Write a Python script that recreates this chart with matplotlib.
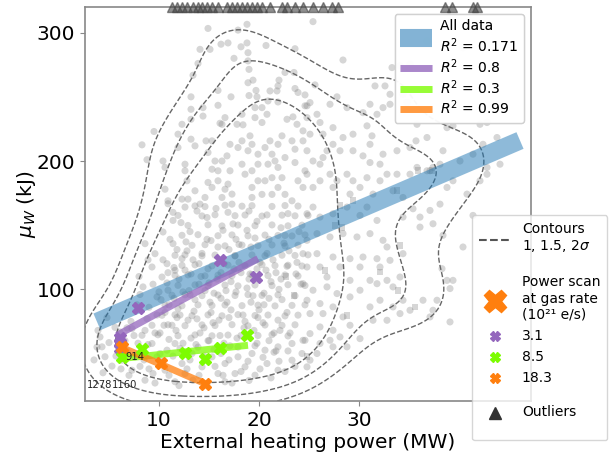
import numpy as np
import matplotlib
matplotlib.use("Agg")
import matplotlib.pyplot as plt
from matplotlib.lines import Line2D

# ---------------- data ----------------
# gray cloud, circles: (external heating power MW, mu_W kJ)
circle_points = [
    # upper part
    (14.9,303.3),(17.9,302),(18.8,306.5),(16.2,291),(16.9,292),(15.1,287),(14.1,287),(18.2,289),
    (18.8,292),(20.7,290),(23.6,287.5),(17.5,280),(18.9,284.4),(18.9,278),(19.0,271.4),(13.9,276),
    (13.4,266.8),(19.4,263),(18.9,261),(22.6,269),(23.5,269),(22.0,263),(21.9,258.5),(15.9,255),
    (17.2,250),(19.0,251),(19.7,255),(19.8,250),(21.1,254.6),(21.8,254.6),(20.9,246.8),(21.9,246),
    (23.6,256.5),(23.9,253.4),(24.6,243),(13.2,250),(15.9,243.4),(14.4,241.6),(14.4,235),(13.2,240.3),
    (13.2,232.5),(16.6,233.8),(16.1,229.4),(16.3,228.6),(12.3,228.6),(9.5,223),(8.3,212.6),(8.8,201),
    (11.9,220.9),(11.9,210.5),(13.2,217),(10.4,200),(10.6,195),(10.6,178),(10.9,169),(13.6,211.8),
    (14.7,215.7),(15.3,215.7),(14.9,206.6),(16.3,200),(15.9,192.4),(16.8,204),(17.1,213),(17.8,228.6),
    (18.4,228.2),(18.3,236.4),(19.6,233.8),(20.3,230),(20.8,236.4),(20.3,241.6),(19.6,241.6),(22.8,232.5),
    (23.4,234.4),(23.8,228.6),(24.4,223.5),(24.8,243),(22.3,219.6),(21.9,213),(23.3,215.7),(23.6,209.2),
    (22.6,202.7),(23.6,198.8),(24.6,192.4),(23.9,184.6),
    (19.1,219.6),(19.3,213),(18.9,208),(19.9,205.3),(20.6,210.5),(21.1,215.7),(21.3,205.3),(21.6,200),
    (21.9,195),(20.9,197.5),(19.9,197.5),(19.3,192.4),(19.9,184.6),(19.3,179.4),(20.6,184.6),(21.3,187),
    (22.3,187),(21.9,179.4),(22.6,174),(23.3,169),(21.3,174),(20.3,174),(19.3,171.6),(18.6,189.7),
    (18.3,197.5),(17.9,210.5),(18.3,215.7),(17.1,192.4),(16.9,182),(16.6,178),(15.6,200),(15.3,193.6),
    (15.9,184.6),(14.9,183.3),(15.3,179.4),(12.6,197.5),(12.6,192.4),(12.8,184.6),(13.6,176.8),(12.9,170.3),
    (12.3,170.3),(14.1,166.4),(14.6,171.6),(16.3,171.6),(17.3,174.2),(17.3,166.4),
    # upper right
    (25.4,308.6),(28.4,278.7),(25.6,259.3),(24.6,251.5),(25.1,245.5),(24.8,233.8),(25.8,236.4),
    (27.1,244.2),(27.8,250),(26.1,230),(27.4,226),(28.8,241.6),(30.4,237.7),(31.1,244.2),(31.8,236.4),
    (32.4,241.6),(33.1,244.2),(30.8,227.4),(31.3,219.6),(31.1,213),(31.6,258.5),(32.6,258.5),(33.3,272.8),
    (34.1,274.1),(35.1,275.4),(33.1,252),(34.4,252),(34.8,245.5),(35.8,228.6),(36.8,218.3),(35.7,215.7),
    (35.1,210.5),(33.8,208),(32.4,205.3),(32.1,197.5),(31.1,198.8),(30.4,204),(29.4,208),(28.1,208),
    (28.4,218.3),(29.4,220.9),(27.4,213),(26.8,208),(26.4,202.7),(26.1,197.5),(25.4,200),(24.8,208),
    (24.4,215.7),(25.1,220.9),(26.4,220.9),(38.8,226),(39.4,227.4),(40.4,288.3),(36.8,293.5),(42.1,228.6),
    (42.8,230),(42.4,213),(43.8,218.3),(41.4,205.3),(40.1,200),(42.8,195),(44.1,197.5),(42.1,184.6),
    (39.4,184.6),(38.1,197.5),(37.4,195),(37.1,192.4),(38.4,208),(35.1,189.7),(35.8,195),(36.8,192.4),
    (33.8,189.7),(32.8,189.7),(32.1,184.6),(30.8,187),(30.1,179.4),(29.4,184.6),(28.8,189.7),(27.8,184.6),
    (27.4,179.4),(27.1,189.7),(26.1,184.6),(25.4,179.4),(24.8,189.7),(24.4,179.4),(29.1,174.2),(31.4,174.2),
    (33.4,176.8),(34.4,171.6),(38.8,179.4),(40.8,174.2),(38.1,166.4),(42.8,189.7),
    # lower right
    (25.4,164.1),(24.8,158.9),(26.1,156.3),(27.4,158.9),(28.8,164.1),(30.1,157.6),(30.8,164.1),(31.8,153.7),
    (31.1,143.4),(32.4,138.2),(29.8,140.8),(28.4,143.4),(27.1,140.8),(25.8,143.4),(24.8,138.2),(24.4,127.8),
    (25.8,127.8),(27.4,125.2),(29.1,123.9),(30.4,125.2),(31.8,123.9),(33.1,122.6),(32.8,133),(34.4,156.3),
    (35.4,162.8),(36.1,156.3),(37.1,161.5),(37.4,151.1),(36.1,148.5),(34.4,127.8),(34.1,109.6),(32.8,107),
    (31.8,104.4),(31.1,107),(30.1,99.3),(29.1,94.1),(27.8,96.7),(26.8,101.9),(25.4,99.3),(24.4,104.4),
    (24.8,91.5),(26.1,88.9),(27.4,86.3),(28.4,78.5),(29.1,72),(27.4,68.1),(26.1,70.7),(25.1,65.5),
    (24.4,60.3),(26.1,57.8),(27.1,60.3),(28.1,62.9),(30.1,61.6),(31.1,86.3),(32.1,91.5),(33.4,86.3),
    (31.4,75.9),(32.8,75.9),(34.1,81.1),(35.1,83.7),(37.4,83.7),(37.1,78.5),(38.4,142.1),(40.4,133),
    (38.3,116.1),(38.8,107),(39.4,107),(39.1,100.6),(39.1,74.6),(37.8,91.5),(41.4,157.6),(36.4,91.5),
    (34.4,91.5),(33.4,101.9),(32.1,117.4),(30.1,117.4),(28.1,117.4),(26.1,117.4),(24.8,117.4),(26.8,109.6),
    (29.1,107),(25.8,50),(25.1,44.8),(24.8,39.6),(27.4,55.2),(28.8,55.2),(26.4,81.1),(25.1,81.1),
    # lower left edge
    (10.9,166.7),(12.6,164.1),(11.4,153.7),(10.4,144.7),(8.6,135.6),(11.4,135.6),(9.6,127.8),(10.8,120),
    (9.3,117.4),(12.3,123.9),(8.4,101.9),(9.8,94.1),(10.9,99.3),(10.3,109.6),(11.6,114.8),(4.1,62.9),
    (4.3,55.2),(6.1,66.8),(7.3,69.4),(8.8,77.2),(7.6,47.4),(7.3,37),(8.6,29.2),(9.4,34.4),
    (10.6,37),(11.6,28),(12.6,34.4),(13.4,29.2),(15.9,34.4),(16.6,28),(17.6,34.4),(18.6,39.6),
    (19.6,33.1),(20.8,42.2),(21.9,37),(23.3,44.8),(24.3,50),(10.8,52.6),(11.6,57.8),(13.3,50),
    (12.3,42.2),(14.3,39.6),(15.3,47.4),(16.6,42.2),(17.9,47.4),(19.3,50),(20.6,52.6),(21.9,55.2),
    (23.3,57.8),(24.6,60.3),(9.3,57.8),(9.8,47.4),(6.3,44.8),(5.6,70.4),(5.0,58.5),(4.6,47.5),(5.3,40.2),
    (3.5,45),(3.9,68),(4.4,35),(4.8,78),(3.8,55),
    # bottom band
    (6.8,52),(7.9,58),(8.5,45),(9.0,38),(9.6,27),(10.3,44),(11.0,33),(11.4,48),(12.0,25),(12.1,54),
    (12.8,38),(13.1,45),(13.7,57),(14.0,33),(14.5,48),(14.8,26),(15.0,60),(15.6,40),(16.2,50),(16.4,33),
    (17.0,45),(17.3,27),(17.9,55),(18.2,36),(18.9,44),(19.0,29),(19.6,56),(20.1,38),(20.4,47),(21.2,31),
    (21.5,51),(22.0,44),(22.6,36),(22.9,52),(23.6,40),(8.1,40),(7.0,33),(6.2,38),(5.7,48),(6.6,60),
    (7.2,75),(7.8,88),(8.1,96),(7.5,64),(6.8,70),(8.0,110),(8.9,123),(9.4,104),(9.0,86),(8.6,68),
    # dense core
    (13.6,165),(14.6,164.5),(16.6,165.5),(18.3,164.8),(19.3,165.2),(21.3,164.6),(22.6,165.3),(23.9,164.9),
    (11.9,157.6),(14.3,157.2),(15.6,158.1),(17.6,157.4),(18.6,157.9),(20.3,157.1),(22.3,157.8),(23.6,157.3),(24.9,157.6),
    (12.9,149.8),(14.9,150.3),(16.3,149.4),(17.9,150.1),(19.6,149.6),(21.3,150.2),(22.9,149.5),(24.3,150),
    (12.3,142.1),(13.9,142.6),(15.9,141.8),(17.3,142.4),(18.9,141.7),(20.6,142.3),(21.9,142),(23.3,141.6),(24.6,142.4),
    (13.3,134.3),(14.6,134.8),(16.6,133.9),(18.3,134.5),(19.9,134.1),(21.3,134.6),(22.6,133.8),(23.9,134.4),
    (11.6,126.5),(12.6,126.9),(14.3,126.1),(15.6,126.7),(17.6,126.3),(19.3,126.8),(20.6,126.2),(22.3,126.6),(23.6,126.4),(24.9,126.9),
    (12.3,118.7),(13.6,119.1),(15.3,118.3),(16.9,118.9),(18.6,118.4),(20.3,119.2),(21.6,118.5),(22.9,118.8),(24.3,118.2),
    (11.6,110.9),(12.9,111.3),(14.6,110.5),(15.9,111.1),(17.3,110.6),(19.3,111.4),(20.9,110.7),(22.6,111.2),(23.9,110.4),
    (11.9,103.1),(13.6,103.5),(14.9,102.8),(16.6,103.3),(17.9,102.7),(19.6,103.4),(21.3,102.9),(22.9,103.6),(24.6,103),
    (11.3,95.4),(12.6,95.8),(14.3,95.1),(15.9,95.6),(17.6,95.2),(18.9,95.9),(20.3,95.3),(21.9,95.7),(23.6,95),
    (10.6,87.6),(12.3,87.2),(13.9,87.9),(15.3,87.4),(16.6,87.8),(18.3,87.3),(19.9,87.7),(21.6,87.1),(23.3,87.5),(24.6,87.9),
    (10.3,79.8),(11.6,80.2),(13.3,79.5),(14.9,80.1),(16.3,79.4),(17.9,80.3),(19.6,79.6),(20.9,80),(22.6,79.3),(23.9,79.9),
    (9.3,72),(10.9,72.4),(12.6,71.7),(14.3,72.3),(15.6,71.8),(17.3,72.5),(18.9,71.6),(20.6,72.2),(22.3,71.9),(23.6,72.4),
    (8.3,64.2),(9.9,64.6),(11.9,63.9),(13.6,64.5),(15.3,63.8),(16.9,64.4),(19.9,64),(21.3,64.7),(22.9,63.7),
    (13.1,145),(15.2,138),(17.0,131),(18.8,146),(14.0,120),(16.2,113),(19.0,108),(13.0,99),(15.1,90),
    (17.2,84),(19.4,95),(20.1,121),(21.0,139),(12.0,108),(14.8,156),(16.9,160),(19.8,153),(18.0,121),
    (15.0,105),(13.5,83),(16.0,76),(18.5,70),(20.5,88),(22.0,100),(21.7,113),(23.0,130),(22.2,148),
    (17.7,139),(12.8,130),(11.0,88),(11.8,78),(14.1,66),(10.5,72),(16.7,99),(19.9,78),(21.5,66),(22.8,82),
    (11.4,160),(12.2,152),(13.8,161),(15.7,163),(17.4,151),(19.0,161),(20.8,158),(22.9,159),(24.0,145),
    (11.1,139),(12.7,137),(14.3,128),(15.9,133),(17.6,126),(19.2,133),(20.8,128),(22.5,136),(23.8,121),
    (11.5,117),(13.2,112),(14.9,116),(16.5,120),(18.2,113),(19.8,116),(21.2,106),(22.8,118),(24.2,104),
    (10.8,105),(12.4,98),(14.0,104),(15.5,97),(17.2,106),(18.8,101),(20.5,97),(22.3,92),(23.7,112),
    (10.2,92),(11.9,85),(13.6,92),(15.2,82),(16.8,90),(18.4,80),(20.0,84),(21.9,76),(9.8,80),
    (11.3,72),(12.9,76),(14.5,70),(16.1,64),(17.8,62),(19.5,68),(21.0,60),(9.6,66),(11.0,61),
    (12.4,58),(13.9,55),(15.5,53),(17.1,56),(8.9,57),(10.1,50),
    (10.4,123),(11.8,131),(13.4,123),(14.8,139),(16.4,146),(18.0,135),(19.6,140),(21.4,123),(22.6,142),
    (10.9,113),(12.6,115),(14.2,110),(15.8,108),(17.5,116),(19.1,112),(20.7,115),(22.2,108),(10.0,98),
    (11.5,93),(13.1,96),(14.6,99),(16.2,93),(17.7,98),(19.2,90),(21.0,93),(10.6,82),(12.1,80),
    (13.8,77),(15.4,74),(17.0,78),(18.6,75),(20.4,74),(22.1,68),(10.1,66),(11.7,68),(13.2,62),
    (14.9,60),(16.5,58),(18.2,64),(19.8,58),(21.7,52),(23.1,66),
]
# gray cloud, squares
square_points = [
    (28.1,165.4),(26.6,114.8),(32.1,113.5),(33.9,99.3),(34.1,134.3),(35.6,86.3),(28.8,79.8),(24.8,47.4),
    (37.3,192.4),(33.8,176.8),(29.4,169),(35.9,192.4),(27.6,150),(28.3,148),(22.7,110),(23.5,95),
]
# outliers above the plotted range (shown on the top edge)
outlier_power = [11.3,11.8,12.3,12.8,13.4,13.9,14.3,14.8,15.3,15.9,16.8,17.3,17.8,18.3,18.8,19.3,
                 19.8,20.3,21.1,22.3,22.8,23.6,24.4,25.4,26.4,27.3,27.9,38.6,39.3,41.4,41.8]

# power scans at fixed gas rate
scan_rates = ["3.1", "8.5", "18.3"]
scan31_power = [16.1, 19.7, 7.9, 6.1, 6.1, 6.1]
scan31_energy = [123.1, 109.6, 85.5, 62.4, 58.0, 54.3]
scan85_power = [18.8, 16.1, 12.6, 14.6, 8.3, 6.3]
scan85_energy = [64.2, 54.3, 50.4, 46.0, 53.8, 47.3]
scan183_power = [6.3, 10.2, 14.6]
scan183_energy = [55.1, 42.6, 26.6]

# linear fits: (intercept, slope, x_min, x_max) and R^2
fit_all = (62.0, 3.34, 3.8, 46.1)
fit_31 = (39.64, 4.234, 5.8, 19.9)
fit_85 = (41.04, 0.8125, 6.1, 18.9)
fit_183 = (75.96, -3.381, 6.2, 14.6)
fit_r2 = ["0.171", "0.8", "0.3", "0.99"]

# labelled shots
shot_labels = ["914", "1278", "1160"]
shot_power = [6.6, 2.75, 5.3]
shot_energy = [47.0, 25.3, 25.3]

contour_sigmas = [1, 1.5, 2]
contour_fractions = [0.66, 0.86, 0.954]

# ---------------- figure ----------------
C_PURPLE = "#9467bd"
C_GREEN = "#7cfc00"
C_ORANGE = "#ff7f0e"
C_BLUE = "#1f77b4"

fig = plt.figure(figsize=(6.11, 4.54), dpi=100)
ax = fig.add_axes([85/611, 1-401/454, (531-85)/611, (401-7)/454])
XMIN, XMAX, YMIN, YMAX = 2.6, 47.2, 13, 320
ax.set_xlim(XMIN, XMAX)
ax.set_ylim(YMIN, YMAX)

cp = np.array(circle_points)
sp = np.array(square_points)
ax.scatter(cp[:, 0], cp[:, 1], s=26, color="gray", alpha=0.32, edgecolors="none", zorder=1)
ax.scatter(sp[:, 0], sp[:, 1], s=24, marker="s", color="gray", alpha=0.32, edgecolors="none", zorder=1)

# KDE contours
allp = np.vstack([cp, sp])
n = len(allp)
fac = n ** (-1.0 / 6.0)
bx = allp[:, 0].std() * fac
by = allp[:, 1].std() * fac
gx = np.linspace(-5, 55, 240)
gy = np.linspace(-60, 400, 240)
GX, GY = np.meshgrid(gx, gy)
Z = np.zeros_like(GX)
for px, py in allp:
    Z += np.exp(-0.5 * (((GX - px) / bx) ** 2 + ((GY - py) / by) ** 2))
dpts = np.zeros(n)
for px, py in allp:
    dpts += np.exp(-0.5 * (((allp[:, 0] - px) / bx) ** 2 + ((allp[:, 1] - py) / by) ** 2))
levels = sorted(np.quantile(dpts, [1 - f for f in contour_fractions]))
ax.contour(GX, GY, Z, levels=levels, colors="#666666", linestyles="--", linewidths=1.0, zorder=2)

# fit lines
def fit_line(fp, **kw):
    a, b, x0, x1 = fp
    xs = np.array([x0, x1])
    ax.plot(xs, a + b * xs, solid_capstyle="butt", **kw)

fit_line(fit_all, color=C_BLUE, lw=13, alpha=0.5, zorder=3)
fit_line(fit_31, color=C_PURPLE, lw=5, alpha=0.75, zorder=4)
fit_line(fit_85, color=C_GREEN, lw=5, alpha=0.75, zorder=4)
fit_line(fit_183, color=C_ORANGE, lw=5, alpha=0.75, zorder=4)

ax.plot(scan31_power, scan31_energy, "X", color=C_PURPLE, ms=8, ls="none", zorder=5)
ax.plot(scan85_power, scan85_energy, "X", color=C_GREEN, ms=8, ls="none", zorder=5)
ax.plot(scan183_power, scan183_energy, "X", color=C_ORANGE, ms=8, ls="none", zorder=5)

for lab, xx, yy in zip(shot_labels, shot_power, shot_energy):
    ax.text(xx, yy, lab, fontsize=7.2, color="#222222", ha="left", va="center", zorder=6)

ax.plot(outlier_power, [YMAX] * len(outlier_power), "^", color="#444444", alpha=0.6,
        ms=7, ls="none", clip_on=False, zorder=6)

# axes styling
for s in ax.spines.values():
    s.set_color("#888888")
    s.set_linewidth(1.2)
ax.tick_params(colors="#888888", labelcolor="black", labelsize=14.5)
ax.set_xticks([10, 20, 30])
ax.set_yticks([100, 200, 300])
ax.set_xlabel("External heating power (MW)", fontsize=14.5, labelpad=2)
ax.set_ylabel(r"$\mu_W$ (kJ)", fontsize=14.5, labelpad=-1)

# legend 1: fits
h1 = [Line2D([], [], color=C_BLUE, lw=13, alpha=0.5, solid_capstyle="butt"),
      Line2D([], [], color=C_PURPLE, lw=5, alpha=0.75, solid_capstyle="butt"),
      Line2D([], [], color=C_GREEN, lw=5, alpha=0.75, solid_capstyle="butt"),
      Line2D([], [], color=C_ORANGE, lw=5, alpha=0.75, solid_capstyle="butt")]
l1 = ["All data\n$R^2$ = " + fit_r2[0]] + ["$R^2$ = " + r for r in fit_r2[1:]]
leg1 = ax.legend(h1, l1, loc="upper right", fontsize=10, handlelength=2.3, handletextpad=0.6,
                 framealpha=0.8, borderaxespad=0.5, labelspacing=0.15)
ax.add_artist(leg1)

# legend 2
blank = Line2D([], [], ls="none")
h2 = [Line2D([], [], color="#555555", ls="--", lw=1.5),
      blank,
      Line2D([], [], marker="X", ms=16, color=C_ORANGE, ls="none"),
      Line2D([], [], marker="X", ms=7, color=C_PURPLE, ls="none"),
      Line2D([], [], marker="X", ms=7, color=C_GREEN, ls="none"),
      Line2D([], [], marker="X", ms=7, color=C_ORANGE, ls="none"),
      blank,
      Line2D([], [], marker="^", ms=8, color="#333333", ls="none"),
      blank]
l2 = ["Contours\n" + ", ".join(str(s) for s in contour_sigmas) + r"$\sigma$",
      "",
      "Power scan\nat gas rate\n(10\u00b2\u00b9 e/s)",
      scan_rates[0], scan_rates[1], scan_rates[2],
      "",
      "Outliers",
      ""]
leg2 = fig.legend(h2, l2, loc="lower right", bbox_to_anchor=(0.994, 0.03), fontsize=10,
                  handlelength=2.3, handleheight=0.05, framealpha=0.8, borderaxespad=0,
                  borderpad=0.5)
for i in (1, 6, 8):
    leg2.get_texts()[i].set_fontsize(1)

fig.savefig("out.png", dpi=100)
